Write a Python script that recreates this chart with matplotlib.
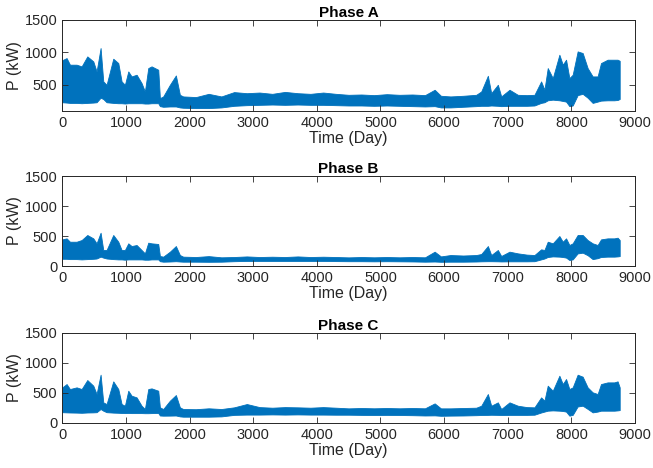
import matplotlib
matplotlib.use("Agg")
import matplotlib.pyplot as plt
import numpy as np

plt.rcParams["font.family"] = ["Liberation Sans", "DejaVu Sans"]

hours = [
    0, 68, 120, 225, 304, 393, 487, 539, 602, 644,
    696, 801, 880, 932, 984, 1037, 1089, 1168, 1246, 1298,
    1351, 1403, 1508, 1534, 1586, 1691, 1785, 1848, 1900, 2100,
    2300, 2500, 2700, 2900, 3100, 3300, 3500, 3700, 3900, 4100,
    4300, 4500, 4700, 4900, 5100, 5300, 5500, 5700, 5852, 5950,
    6100, 6300, 6505, 6584, 6688, 6741, 6845, 6898, 7028, 7159,
    7300, 7420, 7525, 7577, 7629, 7708, 7812, 7865, 7917, 7969,
    8021, 8099, 8178, 8256, 8335, 8413, 8466, 8570, 8674, 8727,
    8760,
]

phase_a_high = [
    880, 912, 810, 810, 784, 938, 861, 706, 1067, 552,
    500, 902, 835, 552, 500, 706, 629, 655, 526, 397,
    758, 784, 732, 294, 320, 500, 644, 345, 320, 310,
    360, 320, 387, 370, 380, 360, 390, 370, 360, 380,
    360, 345, 350, 340, 355, 345, 350, 340, 423, 330,
    320, 330, 345, 397, 639, 371, 500, 320, 423, 345,
    340, 345, 552, 423, 758, 603, 964, 810, 887, 603,
    655, 1015, 990, 758, 629, 629, 835, 887, 887, 887,
    870,
]
phase_a_low = [
    230, 225, 220, 220, 215, 220, 225, 230, 300, 280,
    230, 220, 215, 215, 210, 215, 215, 215, 215, 210,
    210, 215, 215, 170, 160, 165, 165, 150, 145, 140,
    140, 150, 175, 185, 190, 195, 190, 195, 190, 190,
    185, 180, 180, 175, 180, 175, 170, 165, 170, 150,
    150, 160, 170, 175, 175, 180, 175, 170, 175, 175,
    175, 180, 220, 230, 260, 270, 260, 250, 240, 170,
    180, 340, 360, 300, 220, 240, 255, 260, 260, 265,
    280,
]

phase_b_high = [
    444, 461, 405, 405, 433, 517, 461, 378, 555, 267,
    267, 517, 405, 267, 267, 378, 333, 350, 267, 211,
    389, 378, 367, 167, 156, 239, 333, 183, 156, 150,
    165, 145, 150, 160, 150, 155, 150, 160, 150, 155,
    150, 144, 150, 145, 150, 145, 150, 145, 239, 160,
    183, 175, 183, 200, 333, 183, 267, 167, 239, 211,
    190, 183, 278, 267, 405, 378, 500, 405, 461, 350,
    378, 517, 517, 433, 378, 350, 444, 461, 461, 472,
    433,
]
phase_b_low = [
    120, 120, 115, 115, 110, 115, 120, 125, 156, 140,
    125, 115, 110, 110, 105, 110, 110, 110, 110, 105,
    105, 110, 110, 80, 72, 75, 80, 75, 72, 72,
    70, 72, 80, 85, 85, 85, 85, 85, 85, 85,
    82, 80, 80, 78, 80, 78, 76, 72, 75, 70,
    72, 72, 75, 78, 80, 80, 78, 76, 78, 78,
    78, 80, 110, 125, 150, 160, 156, 150, 140, 100,
    110, 210, 222, 180, 115, 130, 150, 156, 156, 160,
    165,
]

phase_c_high = [
    589, 644, 561, 589, 561, 711, 617, 478, 800, 339,
    311, 689, 561, 311, 283, 533, 450, 422, 283, 228,
    561, 572, 533, 256, 228, 367, 461, 256, 228, 225,
    240, 228, 256, 311, 260, 250, 260, 256, 250, 260,
    250, 239, 245, 240, 245, 240, 245, 240, 322, 239,
    239, 245, 250, 283, 478, 283, 339, 228, 339, 283,
    260, 256, 422, 367, 617, 533, 783, 644, 728, 561,
    589, 800, 767, 589, 506, 478, 644, 672, 672, 689,
    589,
]
phase_c_low = [
    175, 172, 170, 168, 165, 170, 172, 175, 228, 200,
    175, 168, 165, 162, 160, 162, 160, 160, 160, 158,
    158, 160, 162, 120, 117, 118, 120, 105, 100, 100,
    100, 105, 130, 135, 135, 138, 135, 138, 135, 135,
    133, 133, 130, 128, 130, 128, 125, 120, 122, 115,
    118, 120, 125, 128, 130, 132, 130, 128, 130, 130,
    130, 133, 170, 185, 200, 205, 200, 195, 185, 117,
    130, 270, 283, 230, 172, 185, 200, 200, 200, 205,
    210,
]

phases = ["Phase A", "Phase B", "Phase C"]
lows = [phase_a_low, phase_b_low, phase_c_low]
highs = [phase_a_high, phase_b_high, phase_c_high]
ybottoms = [100, 0, 0]

blue = "#0072BD"
dark = "#262626"

fig = plt.figure(figsize=(6.53, 4.68), dpi=100)
positions = [
    [0.0954, 0.7635, 0.877, 0.1938],
    [0.0954, 0.4316, 0.877, 0.1923],
    [0.0954, 0.0968, 0.877, 0.1923],
]

for pos, name, lo, hi, yb in zip(positions, phases, lows, highs, ybottoms):
    ax = fig.add_axes(pos)
    ax.fill_between(hours, lo, hi, color=blue, edgecolor=blue, lw=0.6)
    ax.set_xlim(0, 9000)
    ax.set_ylim(yb, 1500)
    ax.set_xticks(np.arange(0, 9001, 1000))
    ax.set_yticks([0, 500, 1000, 1500] if yb == 0 else [500, 1000, 1500])
    ax.tick_params(direction="in", top=True, right=True, labelsize=10.5,
                   colors=dark, length=4, width=0.6)
    for s in ax.spines.values():
        s.set_color(dark)
        s.set_linewidth(0.7)
    ax.set_title(name, fontsize=11, fontweight="bold", pad=2)
    ax.set_xlabel("Time (Day)", fontsize=11.5, color=dark, labelpad=1)
    ax.set_ylabel("P (kW)", fontsize=11.5, color=dark, labelpad=2)

fig.savefig("out.png", dpi=100)
